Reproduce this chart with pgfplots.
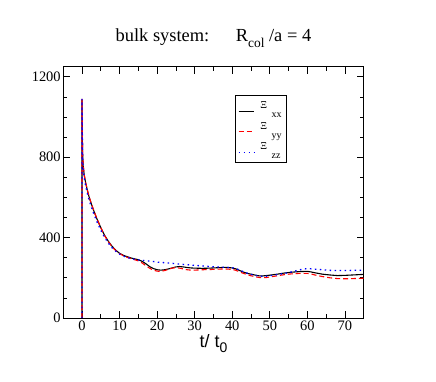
\documentclass[border=0pt]{standalone}
\usepackage{pgfplots}
\pgfplotsset{compat=1.18}
\usepackage{fontspec}
\setmainfont{Liberation Serif}
\newfontfamily\labelfont{Liberation Sans}

% lowered subscript: #1 size, #2 drop, #3 text
\newcommand{\lsub}[3]{\raisebox{-#2}{\fontsize{#1}{#1}\selectfont #3}}

\begin{document}
\begin{tikzpicture}
\path[use as bounding box] (-63.2bp,-64bp) rectangle (372.8bp,318bp);
\begin{axis}[
  at={(0,0)}, anchor=south west,
  scale only axis,
  width=300.5bp, height=251.3bp,
  xmin=-5, xmax=75, ymin=0, ymax=1250,
  xtick={0,10,...,70},
  minor xtick={5,15,...,75},
  ytick={0,400,800,1200},
  minor ytick={100,200,300,500,600,700,900,1000,1100},
  tick align=inside,
  major tick length=7bp,
  minor tick length=4bp,
  tick style={black, line width=0.6pt},
  axis line style={line width=0.8pt},
  /pgf/number format/assume math mode=true,
  /pgf/number format/1000 sep={},
  tick label style={font=\fontsize{14.5}{16}\selectfont},
  xticklabel style={yshift=1bp},
  yticklabel style={xshift=1bp},
  xlabel={\labelfont t/ t\lsub{14}{0.55ex}{0}},
  xlabel style={font=\fontsize{18}{20}\selectfont, yshift=3bp},
  title={bulk system:\hspace{1.1em} R\lsub{13.5}{0.6ex}{col} /a = 4},
  title style={font=\fontsize{18.5}{22}\selectfont, yshift=10bp},
  legend cell align=left,
  legend style={at={(0.571,0.887)}, anchor=north west,
    draw=black, line width=0.6pt, fill=white,
    font=\fontsize{10.5}{11}\selectfont,
    row sep=0pt, inner xsep=3pt, inner ysep=2.5bp,
    nodes={inner xsep=2pt, inner ysep=0pt, text height=11bp, text depth=9.5bp}},
  legend image code/.code={\draw[#1] (0bp,-3.2bp) -- (15bp,-3.2bp);},
]
\addplot[black, line width=1.1pt] coordinates {
(0,0)(0,1085)(0.15,830)(0.3,760)(0.6,710)(1,670)(1.5,630)(2,595)(3,540)(4,492)(5,450)(6,412)(7,382)(8,357)(9,337)(10,322)(11,312)(12,305)(13,299)(14,294)(15,290)(16,282)(17,270)(18,256)(19,246)(20,240)(21,238)(22,240)(23,244)(24,249)(25,254)(26,256)(27,254)(28,251)(29,249)(30,248)(32,247)(34,248)(36,250)(38,252)(39,251)(40,249)(41,244)(42,236)(43,228)(44,222)(45,218)(46,214)(47,210)(48,209)(49,211)(50,213)(52,218)(54,224)(56,228)(58,231)(60,232)(61,229)(62,225)(64,218)(66,214)(68,211)(70,212)(72,214)(75,217)
};
\addlegendentry{\hspace{4bp}Ξ\hspace{4.5bp}\lsub{10}{9bp}{xx}}
\addplot[red, line width=1.1pt, dash pattern=on 5pt off 3pt] coordinates {
(0,0)(0,1090)(0.15,835)(0.3,765)(0.6,712)(1,672)(1.5,632)(2,597)(3,542)(4,493)(5,450)(6,410)(7,380)(8,355)(9,335)(10,320)(11,310)(12,302)(13,296)(14,290)(15,284)(16,274)(17,260)(18,248)(19,238)(20,233)(21,232)(22,236)(23,242)(24,248)(25,251)(26,248)(27,244)(28,240)(29,238)(30,238)(32,240)(34,241)(36,243)(38,244)(40,242)(41,237)(42,229)(43,222)(44,216)(45,210)(46,206)(47,202)(48,200)(49,201)(50,204)(52,210)(54,216)(56,220)(58,222)(60,222)(61,219)(62,214)(64,206)(66,200)(68,196)(70,195)(72,196)(75,198)
};
\addlegendentry{\hspace{4bp}Ξ\hspace{4.5bp}\lsub{10}{9bp}{yy}}
\addplot[blue, line width=1.3pt, dash pattern=on 1.5pt off 3.5pt] coordinates {
(0,0)(0,1090)(0.15,820)(0.3,745)(0.6,695)(1,655)(1.5,615)(2,580)(3,525)(4,478)(5,437)(6,402)(7,373)(8,350)(9,332)(10,318)(11,308)(12,301)(13,296)(14,292)(15,289)(16,287)(17,285)(18,283)(19,281)(20,278)(22,275)(24,272)(26,268)(28,265)(30,262)(32,259)(34,256)(36,254)(38,252)(40,250)(41,246)(42,238)(43,230)(44,223)(45,217)(46,213)(47,209)(48,207)(49,208)(50,210)(52,216)(54,222)(56,230)(58,240)(60,246)(62,243)(64,240)(66,237)(68,236)(70,236)(72,237)(75,238)
};
\addlegendentry{\hspace{4bp}Ξ\hspace{4.5bp}\lsub{10}{9bp}{zz}}
\end{axis}
\end{tikzpicture}
\end{document}
